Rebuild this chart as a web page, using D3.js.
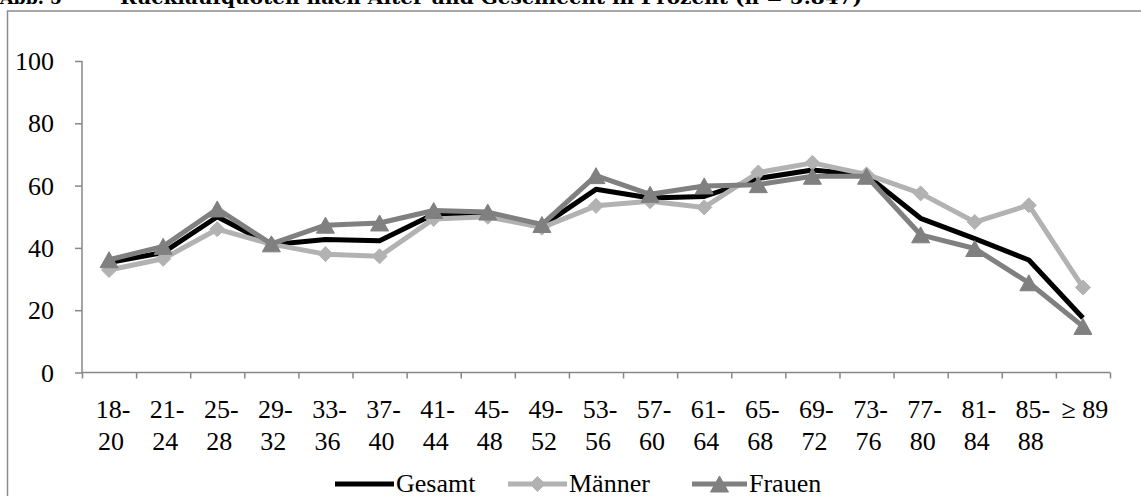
<!DOCTYPE html>
<html>
<head>
<meta charset="utf-8">
<script src="https://cdn.jsdelivr.net/npm/d3@7"></script>
<style>
  html, body { margin: 0; padding: 0; background: #fff; }
  svg { display: block; }
  text { font-family: "Liberation Serif", "Times New Roman", serif; }
</style>
</head>
<body>
<svg id="chart" width="1141" height="496"></svg>
<script>
const categories = ["18-20","21-24","25-28","29-32","33-36","37-40","41-44","45-48","49-52","53-56","57-60","61-64","65-68","69-72","73-76","77-80","81-84","85-88","≥ 89"];
const gesamt  = [35.3, 38.5, 50.0, 41.0, 42.7, 42.3, 50.8, 51.0, 47.0, 58.8, 56.0, 56.5, 62.3, 65.0, 63.3, 49.5, 43.0, 36.1, 17.5];
const maenner = [32.9, 36.5, 46.0, 41.2, 38.0, 37.3, 49.3, 50.0, 46.5, 53.5, 55.0, 53.0, 64.2, 67.3, 63.6, 57.5, 48.3, 53.7, 27.3];
const frauen  = [36.2, 40.5, 52.5, 41.3, 47.3, 48.0, 52.0, 51.5, 47.5, 63.2, 57.2, 59.9, 60.3, 63.0, 63.0, 44.2, 39.8, 28.8, 14.8];
const yTicks  = [0, 20, 40, 60, 80, 100];
const seriesNames = ["Gesamt", "Männer", "Frauen"];
const titleLeft = "Abb. 5";
const titleMain = "Rücklaufquoten nach Alter und Geschlecht in Prozent (n = 5.847)";

const series = [
  { name: seriesNames[0], values: gesamt,  color: "#000000", marker: "none" },
  { name: seriesNames[1], values: maenner, color: "#b2b2b2", marker: "diamond" },
  { name: seriesNames[2], values: frauen,  color: "#808080", marker: "triangle" }
];

const svg = d3.select("#chart");
const axisColor = "#878787";

// Title (cut off at top, as in the reference)
svg.append("text").attr("x", 0).attr("y", 4)
  .style("font-family", "'DejaVu Serif', serif").style("font-weight", "bold").style("font-size", "19px")
  .attr("textLength", 62).attr("lengthAdjust", "spacingAndGlyphs")
  .text(titleLeft);
svg.append("text").attr("x", 120).attr("y", 4)
  .style("font-family", "'DejaVu Serif', serif").style("font-weight", "bold").style("font-size", "19px")
  .attr("textLength", 742).attr("lengthAdjust", "spacingAndGlyphs")
  .text(titleMain);

// Frame
svg.append("rect").attr("x", 7.5).attr("y", 11).attr("width", 1300).attr("height", 700)
  .attr("fill", "none").attr("stroke", "#8c8c8c").attr("stroke-width", 1.5);

const pLeft = 82, pRight = 1110, pTop = 61, pBottom = 372.5;
const x = d3.scaleBand().domain(categories).range([pLeft, pRight]).padding(0);
const y = d3.scaleLinear().domain([0, 100]).range([pBottom, pTop]);
const xi = d3.scaleLinear().domain([0, categories.length]).range([pLeft, pRight]);

// Y axis
const yAxis = svg.append("g").attr("transform", `translate(${pLeft},0)`)
  .call(d3.axisLeft(y).tickValues(yTicks).tickSize(7).tickPadding(21).tickFormat(d3.format("d")));
yAxis.select(".domain").attr("stroke", axisColor).attr("stroke-width", 1.5).attr("d", `M0,${pTop}V${pBottom}`);
yAxis.selectAll(".tick line").attr("stroke", axisColor).attr("stroke-width", 1.5);
yAxis.selectAll(".tick text").attr("fill", "#000").style("font-family", "'Liberation Serif', serif").style("font-size", "26px").attr("dy", "0.33em");

// X axis (ticks at category boundaries)
const xAxis = svg.append("g").attr("transform", `translate(0,${pBottom})`)
  .call(d3.axisBottom(xi).tickValues(d3.range(0, categories.length + 1)).tickSize(6).tickFormat(""));
xAxis.select(".domain").attr("stroke", axisColor).attr("stroke-width", 1.5).attr("d", `M${pLeft},0H${pRight}`);
xAxis.selectAll(".tick line").attr("stroke", axisColor).attr("stroke-width", 1.5);

// Category labels (two lines)
const labG = svg.append("g");
categories.forEach(c => {
  const cx = x(c) + x.bandwidth() / 2 + 2;
  const parts = c.startsWith("≥") ? [c] : [c.split("-")[0] + "-", c.split("-")[1]];
  const t = labG.append("text").attr("x", cx).attr("y", 418)
    .attr("text-anchor", "middle").style("font-size", "26px").attr("fill", "#000");
  parts.forEach((p, i) => {
    t.append("tspan").attr("x", i === 0 && parts.length > 1 ? cx + 2 : cx).attr("dy", i === 0 ? 0 : 32).text(p);
  });
});

// Marker paths
function markerPath(type) {
  if (type === "diamond") {
    const r = 7.5;
    return `M0,${-r}L${r},0L0,${r}L${-r},0Z`;
  }
  if (type === "triangle") {
    const w = 18, h = 16;
    return `M0,${-h/2}L${w/2},${h/2}L${-w/2},${h/2}Z`;
  }
  return null;
}

const line = d3.line()
  .x((d, i) => x(categories[i]) + x.bandwidth() / 2)
  .y(d => y(d));

const plot = svg.append("g");
series.forEach(s => {
  const g = plot.append("g");
  g.append("path").datum(s.values).attr("d", line)
    .attr("fill", "none").attr("stroke", s.color).attr("stroke-width", 5).attr("stroke-linejoin", "round");
  const mp = markerPath(s.marker);
  if (mp) {
    g.selectAll("path.m").data(s.values).enter().append("path").attr("class", "m")
      .attr("d", mp)
      .attr("transform", (d, i) => `translate(${x(categories[i]) + x.bandwidth() / 2},${y(d)})`)
      .attr("fill", s.color).attr("stroke", s.color).attr("stroke-width", 1);
  }
});

// Legend
const legendItems = [
  { s: series[0], x0: 335, x1: 394, tx: 396 },
  { s: series[1], x0: 508, x1: 567, tx: 569 },
  { s: series[2], x0: 692, x1: 747, tx: 749 }
];
const ly = 484;
const lg = svg.append("g");
legendItems.forEach(it => {
  lg.append("line").attr("x1", it.x0).attr("x2", it.x1).attr("y1", ly).attr("y2", ly)
    .attr("stroke", it.s.color).attr("stroke-width", 5);
  const mp = markerPath(it.s.marker);
  if (mp) {
    lg.append("path").attr("d", mp).attr("transform", `translate(${(it.x0 + it.x1) / 2},${ly})`)
      .attr("fill", it.s.color).attr("stroke", it.s.color).attr("stroke-width", 1);
  }
  lg.append("text").attr("x", it.tx).attr("y", 492).style("font-size", "26px").attr("fill", "#000").text(it.s.name);
});
</script>
</body>
</html>
